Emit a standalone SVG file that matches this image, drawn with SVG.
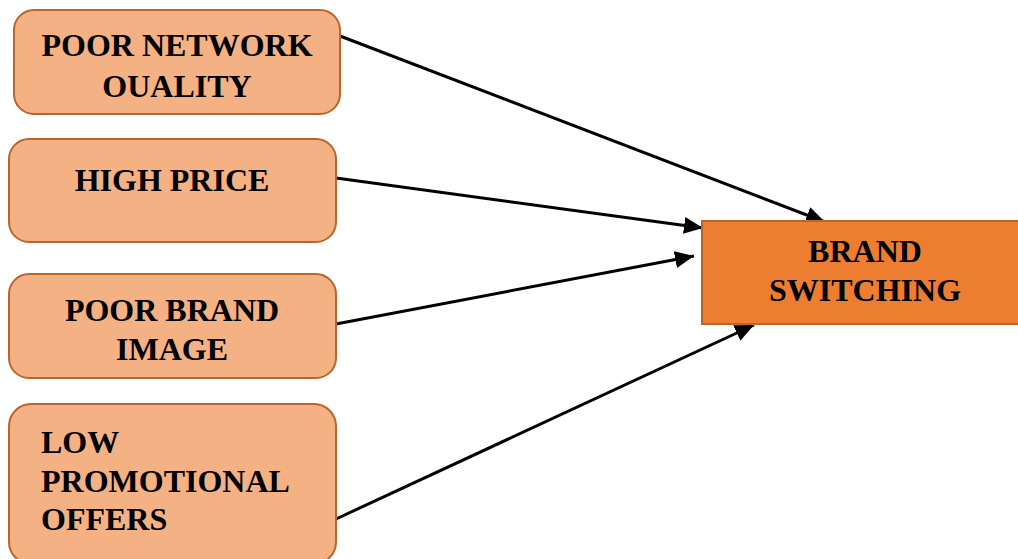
<svg xmlns="http://www.w3.org/2000/svg" width="1018" height="559" viewBox="0 0 1018 559">
<defs>
<style>
.src{fill:#F4B183;stroke:#B9652B;stroke-width:2}
.dst{fill:#ED7D31;stroke:#B9652B;stroke-width:2}
.t{font-family:"Liberation Serif","Times New Roman",serif;font-weight:bold;font-size:32px;fill:#000}
.c{text-anchor:middle}
.e{stroke:#000;stroke-width:3;fill:none;marker-end:url(#ah)}
</style>
<marker id="ah" markerUnits="userSpaceOnUse" markerWidth="20" markerHeight="18" refX="19" refY="8.5" orient="auto">
<path d="M0,0 L19,8.5 L0,17 Z" fill="#000"/>
</marker>
</defs>
<rect width="1018" height="559" fill="#fff"/>
<g id="connectors">
<line class="e" x1="340" y1="36" x2="825" y2="222"/>
<line class="e" x1="336" y1="178" x2="703" y2="228"/>
<line class="e" x1="336" y1="324" x2="694" y2="256"/>
<line class="e" x1="336" y1="519" x2="754" y2="325"/>
</g>
<g id="n1">
<rect class="src" x="14" y="10" width="326" height="104" rx="20"/>
<text class="t c" x="177" y="56">POOR NETWORK</text>
<text class="t c" x="177" y="97">OUALITY</text>
</g>
<g id="n2">
<rect class="src" x="9" y="139" width="327" height="103" rx="20"/>
<text class="t c" x="172" y="191">HIGH PRICE</text>
</g>
<g id="n3">
<rect class="src" x="9" y="274" width="327" height="104" rx="20"/>
<text class="t c" x="172" y="321">POOR BRAND</text>
<text class="t c" x="172" y="360">IMAGE</text>
</g>
<g id="n4">
<rect class="src" x="9" y="404" width="327" height="160" rx="22"/>
<text class="t" x="41" y="453">LOW</text>
<text class="t" x="41" y="492">PROMOTIONAL</text>
<text class="t" x="41" y="530">OFFERS</text>
</g>
<g id="n5">
<rect class="dst" x="702" y="221" width="320" height="103"/>
<text class="t c" x="865" y="262">BRAND</text>
<text class="t c" x="865" y="301">SWITCHING</text>
</g>
</svg>
